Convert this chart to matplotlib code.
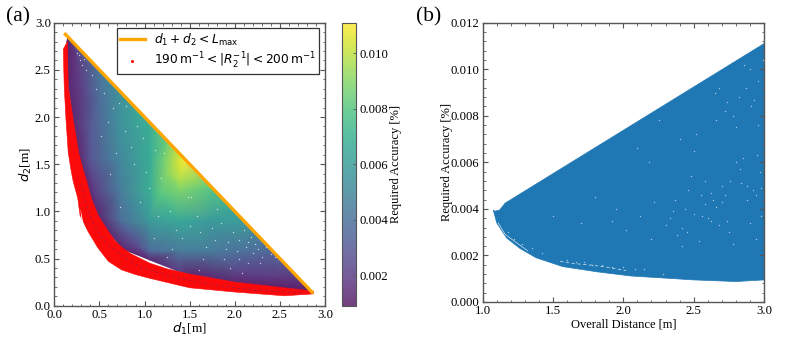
import matplotlib
matplotlib.use("Agg")
import numpy as np
import matplotlib.pyplot as plt
import matplotlib.tri as mtri
from matplotlib.cm import ScalarMappable
from matplotlib.colors import ListedColormap, Normalize
from matplotlib.lines import Line2D
from matplotlib.ticker import AutoMinorLocator

plt.rcParams['font.family'] = ['Liberation Serif', 'DejaVu Sans']
plt.rcParams['mathtext.fontset'] = 'dejavusans'

field_d1 = [0.15, 0.20, 0.30, 0.50, 0.75, 1.00, 1.25, 1.45, 1.75, 2.00, 2.25, 2.50, 2.75, 2.86,
            0.14, 0.16, 0.21, 0.27, 0.32, 0.41, 0.485, 0.60, 0.76, 1.06, 1.50, 2.00, 2.55, 2.80,
            0.25, 0.30, 0.50, 0.395, 0.727, 1.06, 0.395, 0.727, 1.06, 1.39, 0.45, 0.727, 1.06, 1.39, 1.17,
            0.727, 1.06, 1.39, 1.72, 2.05, 0.90, 1.06, 1.39, 1.72, 2.05, 2.39, 1.39, 2.05, 2.50, 1.25, 1.39, 1.20]
field_d2 = [2.85, 2.80, 2.70, 2.50, 2.25, 2.00, 1.75, 1.55, 1.25, 1.00, 0.75, 0.50, 0.25, 0.14,
            2.80, 2.32, 1.97, 1.62, 1.44, 1.14, 0.96, 0.785, 0.60, 0.485, 0.335, 0.25, 0.19, 0.16,
            2.60, 2.30, 2.20, 1.86, 1.86, 1.86, 1.54, 1.54, 1.54, 1.54, 1.22, 1.22, 1.22, 1.22, 1.19,
            0.90, 0.90, 0.90, 0.90, 0.90, 0.64, 0.58, 0.58, 0.58, 0.58, 0.58, 0.36, 0.36, 0.30, 1.40, 1.35, 1.55]
field_acc = [0.0010, 0.0017, 0.0030, 0.0043, 0.0056, 0.0068, 0.0085, 0.0110, 0.0080, 0.0063, 0.0047, 0.0032, 0.0015, 0.0010,
             0.0010, 0.0012, 0.0012, 0.0012, 0.0012, 0.0012, 0.0012, 0.0012, 0.0012, 0.0012, 0.0012, 0.0012, 0.0010, 0.0010,
             0.0018, 0.0020, 0.0038, 0.0029, 0.0054, 0.0068, 0.0027, 0.0050, 0.0067, 0.0105, 0.0020, 0.0044, 0.0068, 0.0088, 0.0080,
             0.0037, 0.0059, 0.0065, 0.0059, 0.0061, 0.0024, 0.0037, 0.0044, 0.0044, 0.0040, 0.0036, 0.0019, 0.0021, 0.0018, 0.0090, 0.0098, 0.0084]

# Red band edges
red_inner_d1 = [0.145, 0.155, 0.21, 0.27, 0.32, 0.36, 0.41, 0.485, 0.60, 0.68, 0.76, 0.85, 1.06, 1.25, 1.50, 2.00, 2.55, 2.87]
red_inner_d2 = [2.80, 2.32, 1.97, 1.62, 1.44, 1.315, 1.14, 0.96, 0.785, 0.68, 0.61, 0.55, 0.45, 0.39, 0.335, 0.25, 0.19, 0.155]
red_outer_d1 = [0.10, 0.11, 0.13, 0.155, 0.185, 0.21, 0.26, 0.285, 0.375, 0.485, 0.60, 0.746, 0.90, 1.06, 1.50, 2.00, 2.55, 2.87]
red_outer_d2 = [2.72, 2.32, 1.97, 1.62, 1.44, 1.315, 1.14, 0.96, 0.785, 0.61, 0.47, 0.38, 0.33, 0.29, 0.19, 0.145, 0.105, 0.125]
gap_d1 = [0.29, 0.32, 0.35, 0.33, 0.30]
gap_d2 = [1.03, 0.88, 0.76, 0.78, 0.92]

# Dark streaks seen through the red band
streak_a_d1 = [0.30, 0.36, 0.44, 0.55, 0.72, 0.95, 1.30, 1.75, 2.20, 2.75]
streak_a_d2 = [1.28, 1.05, 0.86, 0.69, 0.55, 0.41, 0.31, 0.22, 0.165, 0.135]

limit_d1 = [0.11, 2.87]
limit_d2 = [2.89, 0.13]

speck_a_d1 = [0.25, 0.28, 0.30, 0.33, 0.42, 0.55, 0.60, 0.72, 0.80, 0.85, 0.62, 0.52, 0.73, 0.88, 1.05, 1.15,
              1.22, 1.40, 1.48, 1.52, 1.80, 1.85, 1.92, 2.05, 2.12, 2.18, 2.22, 2.26, 2.32, 2.35, 2.38, 2.42,
              2.15, 2.05, 1.95, 1.65, 1.25, 1.60, 1.30, 1.10, 0.95, 2.28, 2.30, 2.20, 2.08, 1.50, 1.70,
              0.27, 0.31, 0.35, 0.40, 0.46, 0.65, 0.68, 0.78, 0.92, 0.98, 1.02, 1.12, 1.18, 1.28, 1.35,
              1.42, 1.58, 1.62, 1.68, 1.75, 1.78, 1.88, 1.98, 2.02, 2.10, 2.25, 2.34, 2.40, 2.45, 2.15, 1.90]
speck_a_d2 = [2.68, 2.60, 2.72, 2.62, 2.45, 2.25, 1.95, 2.15, 2.12, 1.68, 1.40, 1.80, 1.05, 1.50, 1.25, 0.95,
              1.62, 1.62, 1.15, 1.15, 1.02, 0.88, 0.68, 0.70, 0.62, 0.73, 0.65, 0.60, 0.68, 0.62, 0.66, 0.58,
              0.45, 0.50, 0.40, 0.49, 0.52, 0.38, 0.60, 0.72, 1.10, 0.45, 0.52, 0.56, 0.35, 0.85, 1.30,
              2.66, 2.55, 2.50, 2.62, 2.30, 2.10, 1.62, 1.85, 1.90, 1.78, 1.42, 1.65, 1.35, 1.00, 0.80,
              0.72, 0.95, 0.78, 0.62, 0.82, 0.70, 0.50, 0.78, 0.58, 0.80, 0.76, 0.72, 0.55, 0.52, 0.68, 0.60]

# Panel (b): outline of the point cloud and visible gaps inside it
cloud_x = [1.16, 3.00, 3.00, 2.80, 2.50, 2.05, 1.81, 1.57, 1.38, 1.265, 1.17, 1.10, 1.075, 1.085, 1.12]
cloud_y = [0.00425, 0.0111, 0.00095, 0.00088, 0.00095, 0.00112, 0.0013, 0.00152, 0.0019, 0.0023, 0.00275, 0.0034, 0.00395, 0.0039, 0.00395]

gap_b_x = [1.11, 1.16, 1.24, 1.32]
gap_b_y = [0.0034, 0.0029, 0.00255, 0.0022]
gap_c_x = [1.55, 1.65, 1.78, 1.90, 2.02]
gap_c_y = [0.00175, 0.00165, 0.00158, 0.00148, 0.00135]

speck_b_x = [1.18, 1.22, 1.28, 1.35, 1.42, 1.60, 1.66, 1.72, 1.78, 1.85, 1.92, 2.00, 2.08, 2.15, 2.28,
             2.35, 2.42, 2.50, 2.58, 2.62, 2.66, 2.70, 2.74, 2.78, 2.83, 2.88, 2.92, 2.95, 2.98, 2.65,
             2.72, 2.80, 2.55, 2.45, 2.30, 2.20, 1.95, 1.80, 2.90, 2.96, 2.86, 2.75, 2.60, 2.40, 2.10,
             2.84, 2.90, 2.94, 2.70, 2.62, 2.18, 1.50, 1.70, 2.25, 2.68, 2.93, 2.97, 2.85, 2.78, 2.52,
             2.33, 2.37, 2.44, 2.48, 2.56, 2.64, 2.68, 2.72, 2.76, 2.82, 2.87, 2.91, 2.94, 2.98, 2.99,
             1.92, 2.02, 2.12, 2.22, 2.38, 2.46, 2.54, 2.58, 2.74, 2.80, 2.88, 2.96, 2.66, 2.50, 2.42]
speck_b_y = [0.0030, 0.0027, 0.0025, 0.0023, 0.0021, 0.0018, 0.0017, 0.0017, 0.0016, 0.0016, 0.0015, 0.0015, 0.0014, 0.0014, 0.0012,
             0.0039, 0.0032, 0.0038, 0.0042, 0.0035, 0.0041, 0.0050, 0.0086, 0.0080, 0.0057, 0.0050, 0.0048, 0.0063, 0.0037, 0.0090,
             0.0082, 0.0075, 0.0046, 0.0030, 0.0033, 0.0027, 0.0040, 0.0045, 0.0100, 0.0095, 0.0102, 0.0030, 0.0036, 0.0070, 0.0066,
             0.0051, 0.0034, 0.0027, 0.0043, 0.0047, 0.0060, 0.0037, 0.0034, 0.0078, 0.0092, 0.0087, 0.0056, 0.0062, 0.0025, 0.0072,
             0.0036, 0.0044, 0.0040, 0.0054, 0.0037, 0.0044, 0.0033, 0.0046, 0.0052, 0.0088, 0.0092, 0.0084, 0.0046, 0.0049, 0.0104,
             0.0035, 0.0031, 0.0037, 0.0043, 0.0029, 0.0048, 0.0026, 0.0052, 0.0035, 0.0060, 0.0044, 0.0076, 0.0078, 0.0065, 0.0024]

W, H = 793, 353
fig = plt.figure(figsize=(W / 100, H / 100), dpi=100)

def rect(x0, x1, ytop, ybot):
    return [x0 / W, 1 - ybot / H, (x1 - x0) / W, (ybot - ytop) / H]

GREY = '#555555'
def style(ax):
    for s in ax.spines.values():
        s.set_color(GREY)
        s.set_linewidth(1.0)
    ax.xaxis.set_minor_locator(AutoMinorLocator(5))
    ax.yaxis.set_minor_locator(AutoMinorLocator(5))
    ax.tick_params(which='major', direction='in', top=True, right=True, length=3.5, width=0.8,
                   color=GREY, labelsize=9.2, pad=2.5)
    ax.tick_params(which='minor', direction='in', top=True, right=True, length=1.8, width=0.6, color=GREY)

def light(amount):
    c = plt.get_cmap('viridis')(np.linspace(0, 1, 256))
    c[:, :3] = c[:, :3] * amount + (1 - amount)
    return ListedColormap(c)

norm = Normalize(vmin=0.0009, vmax=0.0111)

# Panel (a)
ax = fig.add_axes(rect(54.3, 325, 22.7, 305.7))
tri = mtri.Triangulation(field_d1, field_d2)
tc = ax.tripcolor(tri, field_acc, shading='gouraud', cmap=light(0.88), norm=norm)
ax.scatter(speck_a_d1, speck_a_d2, s=1.0, c='white', alpha=0.7, linewidths=0, zorder=2)
ax.fill(red_inner_d1 + red_outer_d1[::-1], red_inner_d2 + red_outer_d2[::-1],
        color='#fa0a0a', lw=0.4, zorder=3)
ax.plot(streak_a_d1, streak_a_d2, color='#4a2a80', lw=0.5, ls=(0, (3, 5)), alpha=0.7, zorder=3.2)
ax.fill(gap_d1, gap_d2, color='white', lw=0, zorder=3.5)
ax.plot(limit_d1, limit_d2, color='#ffa500', lw=2.4, solid_capstyle='butt', zorder=4)
ax.set_xlim(0, 3)
ax.set_ylim(0, 3)
ax.set_xticks([0, 0.5, 1, 1.5, 2, 2.5, 3])
ax.set_yticks([0, 0.5, 1, 1.5, 2, 2.5, 3])
ax.set_xlabel(r'$d_1$[m]', fontsize=9.5, labelpad=0)
ax.set_ylabel(r'$d_2$[m]', fontsize=9.5, labelpad=0.5)
style(ax)
handles = [Line2D([], [], color='#ffa500', lw=2.4),
           Line2D([], [], color='red', marker='o', ms=1.2, ls='none')]
labels = [r'$d_1 + d_2 < L_{\mathrm{max}}$',
          r'$190\,\mathrm{m}^{-1} < |R_2^{-1}| < 200\,\mathrm{m}^{-1}$']
leg = ax.legend(handles, labels, loc='upper right', bbox_to_anchor=(0.978, 0.98), fontsize=8.8,
                fancybox=False, framealpha=1, edgecolor='#333333', borderaxespad=0,
                handlelength=2.0, labelspacing=0.3, borderpad=0.25, handletextpad=0.75)
leg.get_frame().set_linewidth(0.9)
leg.set_zorder(10)

cax = fig.add_axes(rect(342.3, 356.3, 22.7, 305.7))
cb = fig.colorbar(ScalarMappable(norm=norm, cmap=light(0.75)), cax=cax)
cb.set_ticks([0.002, 0.004, 0.006, 0.008, 0.010])
cb.ax.set_yticklabels(['0.002', '0.004', '0.006', '0.008', '0.010'])
cb.ax.tick_params(which='both', direction='in', length=2, width=0.6, color=GREY, labelsize=9.2, pad=2)
cb.outline.set_edgecolor(GREY)
cb.outline.set_linewidth(0.8)
cb.set_label('Required Accuracy [%]', fontsize=9, labelpad=1.5)

# Panel (b)
bx = fig.add_axes(rect(482.7, 764, 22.7, 302))
bx.fill(cloud_x, cloud_y, color='#1f77b4', lw=0.5)
bx.plot(gap_b_x, gap_b_y, color='white', lw=0.5, alpha=0.8, zorder=3)
bx.plot(gap_c_x, gap_c_y, color='white', lw=0.6, ls=(0, (4, 3)), alpha=0.7, zorder=3)
bx.scatter(speck_b_x, speck_b_y, s=1.0, c='white', alpha=0.6, linewidths=0, zorder=3)
bx.set_xlim(1, 3)
bx.set_ylim(0, 0.012)
bx.set_xticks([1, 1.5, 2, 2.5, 3])
bx.set_yticks([0, 0.002, 0.004, 0.006, 0.008, 0.010, 0.012])
bx.set_yticklabels(['0.000', '0.002', '0.004', '0.006', '0.008', '0.010', '0.012'])
bx.set_xlabel('Overall Distance [m]', fontsize=9, labelpad=1)
bx.set_ylabel('Required Accuracy [%]', fontsize=9, labelpad=-2)
style(bx)

fig.text(18 / W, 1 - 17 / H, '(a)', fontsize=15.5, fontweight='normal', ha='center', va='center')
fig.text(429 / W, 1 - 17 / H, '(b)', fontsize=15.5, ha='center', va='center')

fig.savefig('out.png', dpi=100)
